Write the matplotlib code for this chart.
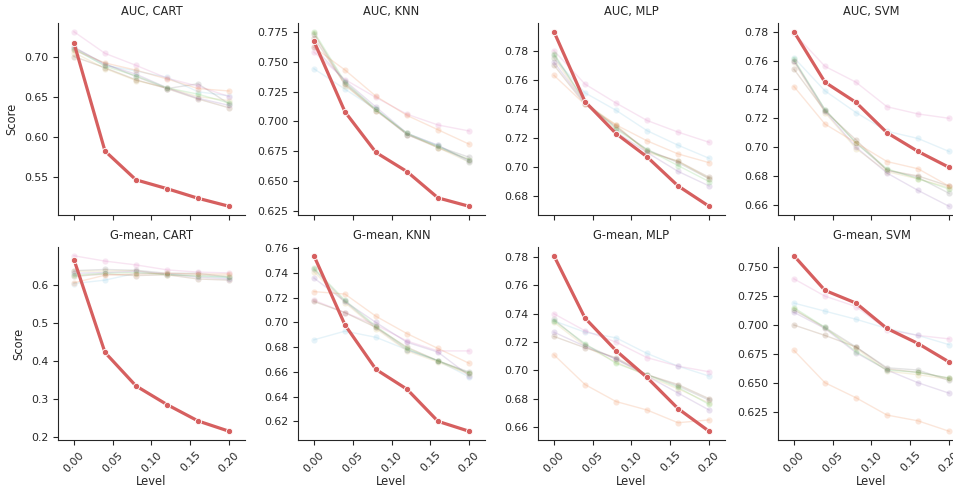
import numpy as np
import matplotlib
matplotlib.use('Agg')
import matplotlib.pyplot as plt
from matplotlib.ticker import MultipleLocator

levels = [0.00, 0.04, 0.08, 0.12, 0.16, 0.20]
metrics = ['AUC', 'G-mean']
classifiers = ['CART', 'KNN', 'MLP', 'SVM']

# row order: highlighted method first, then the faint ones
series_colors = ['#d65f5f', '#ee854a', '#6acc64', '#956cb4', '#8c613c',
                 '#dc7ec0', '#797979', '#d5bb67', '#82c6e2']

auc_cart = [
    [0.717, 0.582, 0.546, 0.535, 0.523, 0.513],
    [0.708, 0.692, 0.683, 0.672, 0.660, 0.657],
    [0.710, 0.688, 0.676, 0.661, 0.653, 0.642],
    [0.712, 0.690, 0.678, 0.661, 0.648, 0.639],
    [0.700, 0.686, 0.671, 0.660, 0.647, 0.636],
    [0.731, 0.704, 0.689, 0.673, 0.663, 0.650],
    [0.711, 0.691, 0.675, 0.660, 0.666, 0.641],
    [0.705, 0.685, 0.670, 0.661, 0.650, 0.645],
    [0.709, 0.689, 0.682, 0.674, 0.656, 0.651],
]
auc_knn = [
    [0.767, 0.708, 0.674, 0.658, 0.636, 0.629],
    [0.762, 0.743, 0.721, 0.705, 0.693, 0.681],
    [0.775, 0.733, 0.710, 0.690, 0.679, 0.668],
    [0.762, 0.734, 0.712, 0.690, 0.680, 0.667],
    [0.770, 0.731, 0.709, 0.689, 0.678, 0.668],
    [0.758, 0.735, 0.720, 0.706, 0.697, 0.692],
    [0.773, 0.732, 0.710, 0.689, 0.679, 0.670],
    [0.774, 0.730, 0.709, 0.690, 0.678, 0.666],
    [0.744, 0.727, 0.710, 0.690, 0.680, 0.666],
]
auc_mlp = [
    [0.793, 0.745, 0.723, 0.707, 0.687, 0.673],
    [0.763, 0.743, 0.729, 0.718, 0.709, 0.703],
    [0.778, 0.745, 0.726, 0.712, 0.701, 0.690],
    [0.772, 0.744, 0.724, 0.710, 0.697, 0.687],
    [0.770, 0.743, 0.728, 0.711, 0.704, 0.693],
    [0.780, 0.757, 0.744, 0.732, 0.724, 0.717],
    [0.777, 0.745, 0.727, 0.712, 0.703, 0.692],
    [0.775, 0.744, 0.729, 0.710, 0.704, 0.692],
    [0.775, 0.751, 0.739, 0.725, 0.715, 0.706],
]
auc_svm = [
    [0.780, 0.745, 0.731, 0.710, 0.697, 0.686],
    [0.742, 0.716, 0.703, 0.690, 0.685, 0.673],
    [0.761, 0.726, 0.703, 0.685, 0.678, 0.671],
    [0.760, 0.725, 0.700, 0.682, 0.670, 0.659],
    [0.754, 0.725, 0.705, 0.684, 0.680, 0.673],
    [0.779, 0.756, 0.745, 0.728, 0.723, 0.720],
    [0.760, 0.726, 0.703, 0.684, 0.679, 0.668],
    [0.759, 0.724, 0.699, 0.683, 0.678, 0.672],
    [0.762, 0.739, 0.724, 0.711, 0.706, 0.697],
]
gmean_cart = [
    [0.666, 0.422, 0.334, 0.285, 0.242, 0.215],
    [0.605, 0.625, 0.628, 0.630, 0.628, 0.628],
    [0.625, 0.630, 0.632, 0.627, 0.622, 0.620],
    [0.630, 0.632, 0.635, 0.628, 0.620, 0.615],
    [0.622, 0.628, 0.624, 0.626, 0.615, 0.612],
    [0.676, 0.662, 0.652, 0.639, 0.633, 0.631],
    [0.637, 0.640, 0.638, 0.630, 0.630, 0.620],
    [0.635, 0.636, 0.637, 0.625, 0.625, 0.624],
    [0.603, 0.612, 0.630, 0.628, 0.625, 0.618],
]
gmean_knn = [
    [0.754, 0.698, 0.662, 0.646, 0.620, 0.612],
    [0.725, 0.723, 0.705, 0.691, 0.679, 0.667],
    [0.744, 0.718, 0.697, 0.679, 0.669, 0.659],
    [0.736, 0.717, 0.700, 0.684, 0.676, 0.657],
    [0.717, 0.708, 0.696, 0.680, 0.669, 0.659],
    [0.718, 0.708, 0.698, 0.685, 0.677, 0.677],
    [0.743, 0.717, 0.696, 0.678, 0.669, 0.660],
    [0.741, 0.716, 0.695, 0.677, 0.668, 0.658],
    [0.686, 0.693, 0.688, 0.678, 0.669, 0.656],
]
gmean_mlp = [
    [0.781, 0.737, 0.714, 0.695, 0.673, 0.657],
    [0.711, 0.690, 0.678, 0.672, 0.663, 0.665],
    [0.735, 0.719, 0.705, 0.697, 0.688, 0.676],
    [0.727, 0.717, 0.708, 0.696, 0.684, 0.672],
    [0.724, 0.716, 0.709, 0.697, 0.690, 0.680],
    [0.740, 0.728, 0.720, 0.709, 0.703, 0.699],
    [0.736, 0.718, 0.708, 0.697, 0.689, 0.679],
    [0.734, 0.717, 0.706, 0.696, 0.687, 0.677],
    [0.735, 0.727, 0.723, 0.712, 0.703, 0.696],
]
gmean_svm = [
    [0.760, 0.730, 0.719, 0.697, 0.684, 0.668],
    [0.678, 0.650, 0.637, 0.622, 0.617, 0.608],
    [0.715, 0.698, 0.677, 0.661, 0.659, 0.654],
    [0.711, 0.697, 0.676, 0.661, 0.650, 0.641],
    [0.700, 0.691, 0.681, 0.662, 0.659, 0.654],
    [0.740, 0.725, 0.716, 0.696, 0.691, 0.688],
    [0.713, 0.698, 0.681, 0.663, 0.661, 0.652],
    [0.714, 0.697, 0.680, 0.660, 0.657, 0.653],
    [0.719, 0.712, 0.705, 0.697, 0.691, 0.683],
]

panels = [[auc_cart, auc_knn, auc_mlp, auc_svm],
          [gmean_cart, gmean_knn, gmean_mlp, gmean_svm]]
y_steps = [[0.05, 0.025, 0.02, 0.02],
           [0.1, 0.02, 0.02, 0.025]]

plt.rcParams['font.family'] = 'DejaVu Sans'
plt.rcParams['text.color'] = '.15'
plt.rcParams['axes.labelcolor'] = '.15'
plt.rcParams['xtick.color'] = '.15'
plt.rcParams['ytick.color'] = '.15'
plt.rcParams['axes.edgecolor'] = '.15'

fig = plt.figure(figsize=(9.54, 4.88), dpi=100)
W, H = 954, 488
col_left = [58, 298, 538, 778]
row_top = [23, 247]
row_h = [192, 193]
ax_w = 187

for r, metric in enumerate(metrics):
    for c, clf in enumerate(classifiers):
        ax = fig.add_axes([col_left[c] / W, 1 - (row_top[r] + row_h[r]) / H,
                           ax_w / W, row_h[r] / H])
        data = panels[r][c]
        # faint methods first, highlighted one on top
        for i in range(len(data) - 1, 0, -1):
            ax.plot(levels, data[i], color=series_colors[i], alpha=0.2, lw=1,
                    marker='o', ms=4.5, mec='white', mew=0.6)
        ax.plot(levels, data[0], color=series_colors[0], lw=2.3,
                marker='o', ms=4.5, mec='white', mew=0.6, zorder=5)
        ax.set_xlim(-0.0206, 0.2206)
        ax.set_xticks([0.0, 0.05, 0.10, 0.15, 0.20])
        ax.yaxis.set_major_locator(MultipleLocator(y_steps[r][c]))
        ax.spines['top'].set_visible(False)
        ax.spines['right'].set_visible(False)
        ax.tick_params(labelsize=7.8, length=3.5, width=0.8)
        ax.set_title(f'{metric}, {clf}', fontsize=8.3)
        if r == 0:
            ax.tick_params(labelbottom=False)
        else:
            ax.set_xticklabels(['0.00', '0.05', '0.10', '0.15', '0.20'],
                               rotation=45)
            ax.set_xlabel('Level', fontsize=8.3, labelpad=0.5)
        if c == 0:
            ax.set_ylabel('Score', fontsize=8.3)

fig.savefig('out.png', dpi=100)
